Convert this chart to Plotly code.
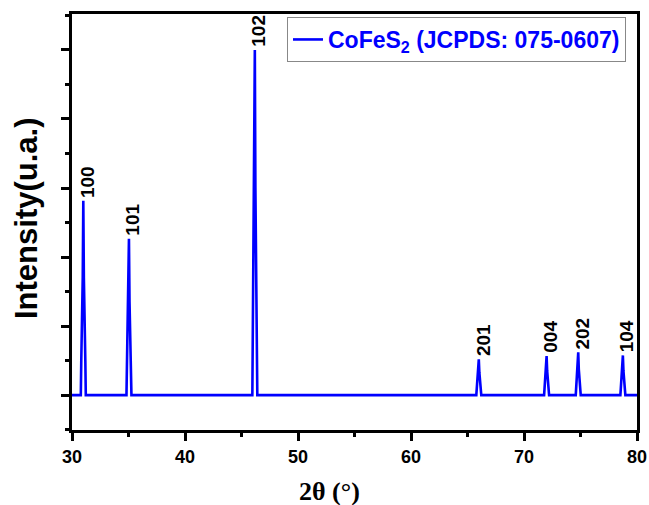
import plotly.graph_objects as go

# Diffraction profile (2θ in degrees, intensity in arbitrary units)
two_theta = [30.0,
             30.78, 30.82, 30.95, 31.0, 31.05, 31.18, 31.22,
             34.82, 34.86, 34.99, 35.04, 35.09, 35.22, 35.26,
             45.96, 46.0, 46.13, 46.18, 46.23, 46.36, 46.4,
             65.78, 65.82, 65.95, 66.0, 66.05, 66.18, 66.22,
             71.78, 71.82, 71.95, 72.0, 72.05, 72.18, 72.22,
             74.58, 74.62, 74.75, 74.8, 74.85, 74.98, 75.02,
             78.53, 78.57, 78.7, 78.75, 78.8, 78.93, 78.97,
             80.0]
intensity = [0,
             0, 100, 340, 563, 340, 100, 0,
             0, 80, 270, 453, 270, 80, 0,
             0, 180, 600, 1000, 600, 180, 0,
             0, 20, 65, 104, 65, 20, 0,
             0, 22, 70, 113, 70, 22, 0,
             0, 24, 75, 124, 75, 24, 0,
             0, 22, 70, 115, 70, 22, 0,
             0]

peak_positions = [31.0, 35.04, 46.18, 66.0, 72.0, 74.8, 78.75]
peak_heights = [563, 453, 1000, 104, 113, 124, 115]
peak_labels = ["100", "101", "102", "201", "004", "202", "104"]

x_ticks = [30, 40, 50, 60, 70, 80]

SANS = "Liberation Sans, Arial, sans-serif"
SERIF = "Liberation Serif, Times New Roman, serif"

fig = go.Figure()
fig.add_trace(go.Scatter(
    x=two_theta, y=intensity, mode="lines",
    line=dict(color="#0000FF", width=2.6),
    name="<b>CoFeS<sub>2</sub> (JCPDS: 075-0607)</b>",
    showlegend=True,
))

for px, ph, lab in zip(peak_positions, peak_heights, peak_labels):
    fig.add_annotation(
        x=px, y=ph, text="<b>" + lab + "</b>", showarrow=False,
        textangle=-90, xanchor="center", yanchor="bottom",
        xshift=4, yshift=1,
        font=dict(family=SANS, size=19, color="black"),
    )

# axis titles
fig.add_annotation(
    xref="paper", yref="paper", x=-0.0814, y=0.5096,
    text="<b>Intensity(u.a.)</b>", showarrow=False, textangle=-90,
    xanchor="center", yanchor="middle",
    font=dict(family=SANS, size=31, color="black"),
)
fig.add_annotation(
    xref="paper", yref="paper", x=0.4566, y=-0.147,
    text="<b>2θ (°)</b>", showarrow=False,
    xanchor="center", yanchor="middle",
    font=dict(family=SERIF, size=26, color="black"),
)

fig.update_layout(
    width=649, height=505,
    margin=dict(l=72, r=12, t=14, b=75),
    paper_bgcolor="white", plot_bgcolor="white",
    showlegend=True,
    legend=dict(
        x=0.9805, y=0.9928, xanchor="right", yanchor="top",
        bgcolor="white", bordercolor="#888888", borderwidth=1,
        font=dict(family=SANS, size=23, color="#0000FF"),
        tracegroupgap=0, itemwidth=30,
    ),
    xaxis=dict(
        range=[30, 80], tickvals=x_ticks, ticktext=[str(v) for v in x_ticks],
        ticks="outside", ticklen=8, tickwidth=2.5, tickcolor="black",
        minor=dict(dtick=5, ticks="outside", ticklen=4, tickwidth=2.5, tickcolor="black"),
        showline=True, linecolor="black", linewidth=3, mirror=True,
        showgrid=False, zeroline=False, automargin=False,
        tickfont=dict(family=SANS, size=18, color="black", weight="bold"),
    ),
    yaxis=dict(
        range=[-101, 1104], tick0=0, dtick=200, showticklabels=False,
        ticks="outside", ticklen=8, tickwidth=2.5, tickcolor="black",
        minor=dict(dtick=100, ticks="outside", ticklen=4, tickwidth=2.5, tickcolor="black"),
        showline=True, linecolor="black", linewidth=3, mirror=True,
        showgrid=False, zeroline=False, automargin=False,
    ),
)

fig.write_html(
    "out.html",
    config={"displayModeBar": False},
    post_script="document.body.style.margin='0';document.body.style.overflow='hidden';",
)
